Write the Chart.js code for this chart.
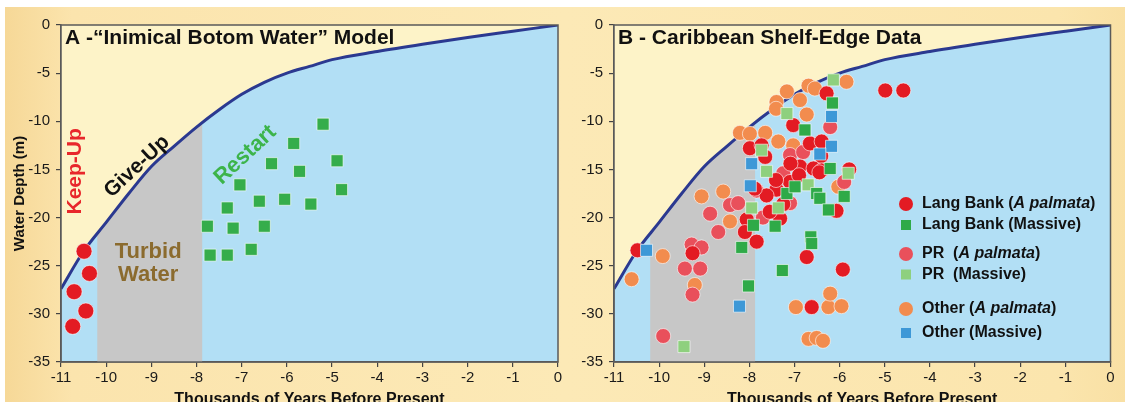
<!DOCTYPE html>
<html>
<head>
<meta charset="utf-8">
<script src="https://cdn.jsdelivr.net/npm/chart.js@4.4.1/dist/chart.umd.min.js"></script>
<style>
  html, body { margin: 0; padding: 0; background: #fff; overflow: hidden; width: 1125px; height: 402px; }
  #page { position: absolute; left: 5px; top: 7px; width: 1120px; height: 395px;
    background: linear-gradient(90deg, #f6d897 0%, #fbe4ad 6%, #fce9b6 50%, #fbe5ad 94%, #f9e0a4 100%); }
  canvas { position: absolute; top: 7px; }
  #chartA { left: 5px; }
  #chartB { left: 570px; }
</style>
</head>
<body>
<div id="page"></div>
<canvas id="chartA" width="565" height="402"></canvas>
<canvas id="chartB" width="555" height="402"></canvas>
<script>
// sea level curve (thousands of years BP, depth in m)
var seaAge   = [-11, -10.5, -10, -9.5, -9, -8.5, -8, -7.5, -7, -6.5, -6, -5.5, -5, -4, -3, -2, -1, 0];
var seaDepth = [-27.4, -23.5, -20.5, -17.5, -14.7, -12.6, -10.6, -8.8, -7.2, -5.95, -5.0, -4.3, -3.6, -2.75, -2.0, -1.3, -0.65, 0];

// turbid water interval
var turbidEdges = [-10.2, -7.87];

// panel A - model
var keepUp = [[-10.49, -23.5], [-10.37, -25.8], [-10.71, -27.7], [-10.45, -29.7], [-10.74, -31.3]];
var restart = [[-5.20, -10.3], [-5.85, -12.3], [-4.89, -14.1], [-6.34, -14.4], [-5.72, -15.2],
  [-7.04, -16.6], [-4.79, -17.1], [-6.61, -18.3], [-6.05, -18.1], [-5.47, -18.6],
  [-7.32, -19.0], [-7.76, -20.9], [-7.19, -21.1], [-6.50, -20.9], [-7.70, -23.9],
  [-7.32, -23.9], [-6.79, -23.3]];

// panel B - shelf-edge data
var lbPalmata = [[-10.48, -23.4], [-4.99, -6.8], [-4.59, -6.8], [-6.29, -7.1], [-7.03, -10.4],
  [-7.99, -12.8], [-7.73, -12.5], [-7.65, -13.7], [-6.66, -12.3], [-6.40, -12.1],
  [-6.41, -13.6], [-5.79, -15.0], [-6.88, -14.7], [-6.58, -14.9], [-6.40, -15.1],
  [-7.09, -14.4], [-7.10, -16.3], [-7.40, -17.1], [-7.62, -17.7], [-7.41, -16.1],
  [-7.88, -17.0], [-8.06, -20.2], [-7.32, -20.1], [-8.10, -21.5], [-7.84, -22.5],
  [-9.26, -23.7], [-6.73, -24.1], [-5.93, -25.4], [-6.62, -29.3], [-6.07, -19.3],
  [-6.90, -15.6], [-7.25, -18.6], [-6.45, -15.3], [-7.55, -19.4]];
var lbMassive = [[-6.16, -8.1], [-6.77, -10.9], [-6.21, -14.9], [-7.17, -17.5], [-6.99, -16.8],
  [-6.51, -17.5], [-6.44, -18.0], [-6.25, -19.2], [-5.90, -17.8], [-7.91, -20.8],
  [-7.43, -20.9], [-8.17, -23.1], [-6.64, -22.0], [-6.62, -22.7], [-7.27, -25.5], [-8.02, -27.1]];
var prPalmata = [[-6.21, -10.6], [-7.10, -13.5], [-6.81, -13.2], [-7.25, -15.4], [-5.90, -16.3],
  [-8.87, -19.6], [-8.69, -21.5], [-8.43, -18.7], [-8.25, -18.5], [-7.10, -18.5],
  [-7.70, -20.0], [-9.28, -22.8], [-9.06, -23.1], [-9.43, -25.3], [-9.09, -25.3],
  [-9.26, -28.0], [-9.91, -32.3], [-7.84, -17.2]];
var prMassive = [[-6.14, -5.7], [-7.17, -9.2], [-7.73, -13.0], [-7.62, -15.2], [-6.70, -16.6],
  [-7.95, -19.0], [-7.36, -19.0], [-5.81, -15.4], [-9.45, -33.4]];
var otherPalmata = [[-5.85, -5.9], [-6.69, -6.3], [-7.17, -6.9], [-7.40, -8.0], [-6.88, -7.8],
  [-6.73, -9.3], [-7.41, -8.7], [-8.21, -11.2], [-7.99, -11.3], [-7.65, -11.2],
  [-7.36, -12.1], [-7.03, -12.5], [-6.03, -16.8], [-9.06, -17.8], [-8.58, -17.3],
  [-8.43, -20.4], [-10.61, -26.4], [-9.92, -24.0], [-9.21, -27.0], [-6.97, -29.3],
  [-6.25, -29.3], [-6.21, -27.9], [-5.96, -29.2], [-6.69, -32.6], [-6.51, -32.5],
  [-6.37, -32.8], [-6.55, -6.6]];
var otherMassive = [[-10.28, -23.4], [-6.18, -9.5], [-6.18, -12.6], [-6.44, -13.4], [-7.95, -14.4],
  [-7.98, -16.7], [-8.22, -29.2]];

var FONT = "'Liberation Sans', Arial, sans-serif";
var BLUE_WATER = '#b2dff5';
var CREAM = '#fdf3c8';
var GRAY = '#c7c7c7';
var NAVY = '#2b3990';
var RED = '#e31b23';
var GREEN = '#2faa48';
var PR_RED = '#e9505b';
var PR_GREEN = '#8ed07e';
var ORANGE = '#f28c4e';
var SKY = '#3d98d7';

function pts(arr) {
  return arr.map(function (p) { return { x: p[0], y: p[1] }; });
}

function curveData() {
  return seaAge.map(function (a, i) { return { x: a, y: seaDepth[i] }; });
}

function backgroundSets() {
  return [
    { label: 'sea level', data: curveData(), showLine: true, pointRadius: 0,
      borderColor: NAVY, borderWidth: 3, cubicInterpolationMode: 'monotone',
      fill: 'end', backgroundColor: CREAM },
    { label: 'turbid', data: turbidEdges.map(function (a) { return { x: a, y: 0 }; }),
      showLine: true, pointRadius: 0, borderWidth: 0, fill: 'start', backgroundColor: GRAY }
  ];
}

function markerSet(label, arr, style, color, radius) {
  return { label: label, data: pts(arr), pointStyle: style, pointRadius: radius,
    backgroundColor: color, borderColor: 'rgba(255,255,255,0.6)', borderWidth: 1 };
}

function scalesFor(yWidth, showYTitle) {
  return {
    x: {
      type: 'linear', min: -11, max: 0,
      ticks: { stepSize: 1, color: '#1a1a1a', font: { family: FONT, size: 15 }, padding: 2,
        callback: function (v) { return String(v); } },
      grid: { drawOnChartArea: false, tickLength: 5, color: '#444', lineWidth: 1.2 },
      border: { color: '#5a5a5a', width: 1.5 },
      title: { display: true, text: 'Thousands of Years Before Present', color: '#111',
        font: { family: FONT, size: 16, weight: 'bold' }, padding: { top: 0, bottom: 0 } },
      afterFit: function (s) { s.height = 47; }
    },
    y: {
      type: 'linear', min: -35, max: 0,
      ticks: { stepSize: 5, color: '#1a1a1a', font: { family: FONT, size: 15 }, padding: 6,
        callback: function (v) { return String(v); } },
      grid: { drawOnChartArea: false, tickLength: 5, color: '#444', lineWidth: 1.2 },
      border: { color: '#5a5a5a', width: 1.5 },
      title: { display: showYTitle, text: 'Water Depth (m)', color: '#111',
        font: { family: FONT, size: 15, weight: 'bold' }, padding: { top: 6, bottom: 0 } },
      afterFit: function (s) { s.width = yWidth; }
    }
  };
}

// water fill behind the plot, frame and panel heading on top
function panelPlugin(title, extra) {
  return {
    id: 'panel',
    beforeDraw: function (chart) {
      var a = chart.chartArea, ctx = chart.ctx;
      ctx.save();
      ctx.fillStyle = BLUE_WATER;
      ctx.fillRect(a.left, a.top, a.right - a.left, a.bottom - a.top);
      ctx.restore();
    },
    afterDatasetsDraw: function (chart) {
      var a = chart.chartArea, ctx = chart.ctx;
      ctx.save();
      ctx.strokeStyle = '#5a5a5a';
      ctx.lineWidth = 1.5;
      ctx.strokeRect(a.left, a.top, a.right - a.left, a.bottom - a.top);
      ctx.fillStyle = '#111';
      ctx.font = 'bold 21px ' + FONT;
      ctx.textBaseline = 'middle';
      ctx.textAlign = 'left';
      ctx.fillText(title, a.left + 4, a.top + 13);
      ctx.restore();
      if (extra) extra(chart);
    }
  };
}

function rotatedText(ctx, text, x, y, angle, color, size) {
  ctx.save();
  ctx.translate(x, y);
  ctx.rotate(angle * Math.PI / 180);
  ctx.fillStyle = color;
  ctx.font = 'bold ' + size + 'px ' + FONT;
  ctx.textAlign = 'center';
  ctx.textBaseline = 'middle';
  ctx.fillText(text, 0, 0);
  ctx.restore();
}

function modelLabels(chart) {
  var ctx = chart.ctx, xs = chart.scales.x, ys = chart.scales.y;
  rotatedText(ctx, 'Keep-Up', xs.getPixelForValue(-10.69), ys.getPixelForValue(-15.2), -90, '#e8262b', 21);
  rotatedText(ctx, 'Give-Up', xs.getPixelForValue(-9.32), ys.getPixelForValue(-14.7), -43, '#111', 21);
  rotatedText(ctx, 'Restart', xs.getPixelForValue(-6.92), ys.getPixelForValue(-13.5), -43, '#3cb44a', 22);
  rotatedText(ctx, 'Turbid', xs.getPixelForValue(-9.07), ys.getPixelForValue(-23.6), 0, '#8b6b2e', 22);
  rotatedText(ctx, 'Water', xs.getPixelForValue(-9.07), ys.getPixelForValue(-26.0), 0, '#8b6b2e', 22);
}

var legendRows = [
  { style: 'circle', color: RED, parts: ['Lang Bank (', 'A palmata', ')'], dy: 179 },
  { style: 'rect', color: GREEN, parts: ['Lang Bank (Massive)'], dy: 200 },
  { style: 'circle', color: PR_RED, parts: ['PR  (', 'A palmata', ')'], dy: 229 },
  { style: 'rect', color: PR_GREEN, parts: ['PR  (Massive)'], dy: 249.5 },
  { style: 'circle', color: ORANGE, parts: ['Other (', 'A palmata', ')'], dy: 284 },
  { style: 'rect', color: SKY, parts: ['Other (Massive)'], dy: 308 }
];

function dataLegend(chart) {
  var ctx = chart.ctx, a = chart.chartArea;
  var mx = a.left + 292;
  ctx.save();
  ctx.textBaseline = 'middle';
  ctx.textAlign = 'left';
  legendRows.forEach(function (row) {
    var y = a.top + row.dy;
    ctx.fillStyle = row.color;
    if (row.style === 'circle') {
      ctx.beginPath();
      ctx.arc(mx, y, 7, 0, Math.PI * 2);
      ctx.fill();
    } else {
      ctx.fillRect(mx - 5, y - 5, 10, 10);
    }
    var tx = mx + 16;
    ctx.fillStyle = '#111';
    row.parts.forEach(function (txt, i) {
      ctx.font = (i === 1 ? 'italic bold 16px ' : 'bold 16px ') + FONT;
      ctx.fillText(txt, tx, y);
      tx += ctx.measureText(txt).width;
    });
  });
  ctx.restore();
}

var common = { responsive: false, animation: false, events: [],
  plugins: { legend: { display: false }, tooltip: { enabled: false } } };

new Chart(document.getElementById('chartA'), {
  type: 'scatter',
  data: {
    datasets: [
      markerSet('Keep-Up', keepUp, 'circle', RED, 8),
      markerSet('Restart', restart, 'rect', '#35ad4b', 8.5)
    ].concat(backgroundSets())
  },
  options: Object.assign({}, common, {
    layout: { padding: { top: 18, right: 12, left: 0, bottom: 0 } },
    scales: scalesFor(56, true)
  }),
  plugins: [panelPlugin('A -\u201cInimical Botom Water\u201d Model', modelLabels)]
});

new Chart(document.getElementById('chartB'), {
  type: 'scatter',
  data: {
    datasets: [
      markerSet('Lang Bank (Massive)', lbMassive, 'rect', GREEN, 8.5),
      markerSet('PR (Massive)', prMassive, 'rect', PR_GREEN, 8.5),
      markerSet('Other (Massive)', otherMassive, 'rect', SKY, 8.5),
      markerSet('Lang Bank (A palmata)', lbPalmata, 'circle', RED, 7.5),
      markerSet('PR (A palmata)', prPalmata, 'circle', PR_RED, 7.5),
      markerSet('Other (A palmata)', otherPalmata, 'circle', ORANGE, 7.5)
    ].concat(backgroundSets())
  },
  options: Object.assign({}, common, {
    layout: { padding: { top: 18, right: 14.5, left: 0, bottom: 0 } },
    scales: scalesFor(44, false)
  }),
  plugins: [panelPlugin('B - Caribbean Shelf-Edge Data', dataLegend)]
});
</script>
</body>
</html>
